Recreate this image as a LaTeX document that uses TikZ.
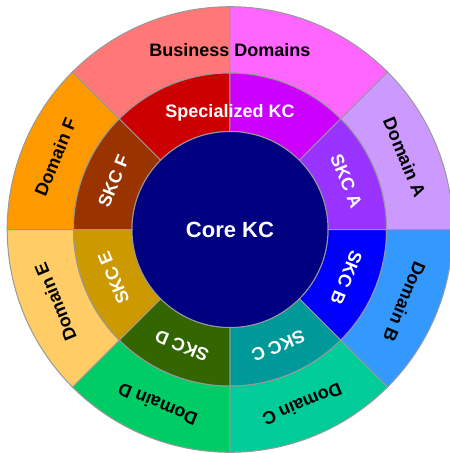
\documentclass[tikz,border=0pt]{standalone}
\usepackage{fontspec}
\setmainfont{Liberation Sans}
\usepackage{tikz}

\definecolor{linegray}{HTML}{999999}
\definecolor{bizL}{HTML}{FF7777}
\definecolor{bizR}{HTML}{FF66FF}
\definecolor{domA}{HTML}{CC99FF}
\definecolor{domB}{HTML}{3399FF}
\definecolor{domC}{HTML}{00CC99}
\definecolor{domD}{HTML}{00CC66}
\definecolor{domE}{HTML}{FFCC66}
\definecolor{domF}{HTML}{FF9900}
\definecolor{specL}{HTML}{CC0000}
\definecolor{specR}{HTML}{CC00FF}
\definecolor{skcA}{HTML}{9933FF}
\definecolor{skcB}{HTML}{0000FF}
\definecolor{skcC}{HTML}{009999}
\definecolor{skcD}{HTML}{336600}
\definecolor{skcE}{HTML}{CC9900}
\definecolor{skcF}{HTML}{993300}
\definecolor{corenavy}{HTML}{000080}

\begin{document}
\begin{tikzpicture}[x=1pt, y=1pt]
\tikzstyle{sector} = [draw=linegray, line width=1pt]
\tikzstyle{domtext} = [font=\bfseries\fontsize{18}{18}\selectfont, text=black]
\tikzstyle{kctext} = [font=\bfseries\fontsize{18}{18}\selectfont, text=white]
\tikzstyle{core} = [circle, draw=linegray, line width=1pt, fill=corenavy, text=white,
  minimum size=196pt, inner sep=0pt, font=\bfseries\fontsize{22}{22}\selectfont]

% ring piece: colour, start angle, end angle, inner radius, outer radius
\def\ringpiece#1#2#3#4#5{
\filldraw[sector, fill=#1] (#2:#4) arc[start angle=#2, end angle=#3, radius=#4]
  -- (#3:#5) arc[start angle=#3, end angle=#2, radius=#5] -- cycle;
}

\useasboundingbox (-230,-223.5) rectangle (220,229.5);

    % outer ring: business domains
    \foreach \a/\b/\col in {0/45/domA, -45/0/domB, -90/-45/domC, -135/-90/domD,
                            180/225/domE, 135/180/domF, 90/135/bizL, 45/90/bizR}
      {\ringpiece{\col}{\a}{\b}{156.5pt}{222.8pt}}

    % middle ring: specialized KC
    \foreach \a/\b/\col in {0/45/skcA, -45/0/skcB, -90/-45/skcC, -135/-90/skcD,
                            180/225/skcE, 135/180/skcF, 90/135/specL, 45/90/specR}
      {\ringpiece{\col}{\a}{\b}{98pt}{156.5pt}}

    % core
    \node [core] (corekc) at (0,0) {Core KC};

    % labels
    \node [domtext, anchor=base] (bizdom) at (90:172.8pt) {Business Domains};
    \node [kctext, anchor=base] (speckc) at (90:112.2pt) {Specialized KC};
    \foreach \ang/\nm in {22.5/A, -22.5/B, -67.5/C, -112.5/D, 202.5/E, 157.5/F}
    {
      \node [domtext, rotate=\ang-90] (dom\nm) at (\ang:189pt) {Domain \nm};
      \node [kctext, rotate=\ang-90] (skc\nm) at (\ang:126pt) {SKC \nm};
    }

\end{tikzpicture}
\end{document}
